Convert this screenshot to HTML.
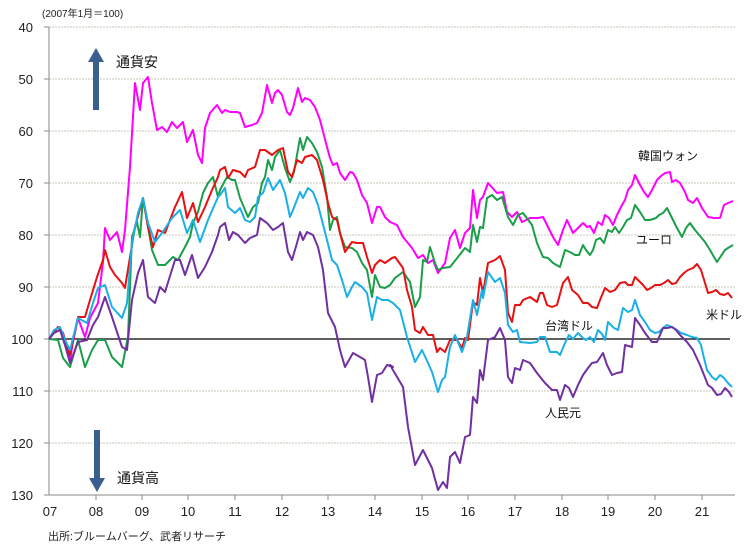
<!DOCTYPE html>
<html><head><meta charset="utf-8"><style>
html,body{margin:0;padding:0;background:#fff;}
svg{display:block;font-family:"Liberation Sans","Noto Sans CJK JP",sans-serif;}
</style></head><body>
<svg width="756" height="548" viewBox="0 0 756 548" xmlns="http://www.w3.org/2000/svg">
<rect width="756" height="548" fill="#fff"/>
<g stroke="#c8c4b4" stroke-width="1" stroke-dasharray="2,1">
<line x1="49" y1="27" x2="735" y2="27"/><line x1="49" y1="79" x2="735" y2="79"/><line x1="49" y1="131" x2="735" y2="131"/><line x1="49" y1="183" x2="735" y2="183"/><line x1="49" y1="235" x2="735" y2="235"/><line x1="49" y1="287" x2="735" y2="287"/><line x1="49" y1="391" x2="735" y2="391"/><line x1="49" y1="443" x2="735" y2="443"/>
</g>
<g stroke="#888" stroke-width="1">
<line x1="49" y1="27" x2="49" y2="495"/><line x1="49" y1="495" x2="735" y2="495"/>
<line x1="44" y1="27" x2="49" y2="27"/><line x1="44" y1="79" x2="49" y2="79"/><line x1="44" y1="131" x2="49" y2="131"/><line x1="44" y1="183" x2="49" y2="183"/><line x1="44" y1="235" x2="49" y2="235"/><line x1="44" y1="287" x2="49" y2="287"/><line x1="44" y1="339" x2="49" y2="339"/><line x1="44" y1="391" x2="49" y2="391"/><line x1="44" y1="443" x2="49" y2="443"/><line x1="44" y1="495" x2="49" y2="495"/>
<line x1="96" y1="495" x2="96" y2="500"/><line x1="142" y1="495" x2="142" y2="500"/><line x1="188" y1="495" x2="188" y2="500"/><line x1="235" y1="495" x2="235" y2="500"/><line x1="282" y1="495" x2="282" y2="500"/><line x1="328" y1="495" x2="328" y2="500"/><line x1="375" y1="495" x2="375" y2="500"/><line x1="422" y1="495" x2="422" y2="500"/><line x1="468" y1="495" x2="468" y2="500"/><line x1="515" y1="495" x2="515" y2="500"/><line x1="562" y1="495" x2="562" y2="500"/><line x1="608" y1="495" x2="608" y2="500"/><line x1="655" y1="495" x2="655" y2="500"/><line x1="702" y1="495" x2="702" y2="500"/>
</g>
<line x1="49" y1="339" x2="730" y2="339" stroke="#000" stroke-width="1.2"/>
<g font-size="13" fill="#222" text-anchor="end">
<text x="33" y="32">40</text><text x="33" y="84">50</text><text x="33" y="136">60</text><text x="33" y="188">70</text><text x="33" y="240">80</text><text x="33" y="292">90</text><text x="33" y="344">100</text><text x="33" y="396">110</text><text x="33" y="448">120</text><text x="33" y="500">130</text>
</g>
<g font-size="13" fill="#222" text-anchor="middle">
<text x="50" y="516">07</text><text x="96" y="516">08</text><text x="142" y="516">09</text><text x="188" y="516">10</text><text x="235" y="516">11</text><text x="282" y="516">12</text><text x="328" y="516">13</text><text x="375" y="516">14</text><text x="422" y="516">15</text><text x="468" y="516">16</text><text x="515" y="516">17</text><text x="562" y="516">18</text><text x="608" y="516">19</text><text x="655" y="516">20</text><text x="702" y="516">21</text>
</g>
<text x="42" y="17" font-size="10" fill="#222">(2007年1月＝100)</text>
<text x="48" y="540" font-size="11" fill="#222">出所:ブルームバーグ、武者リサーチ</text>
<polygon points="96,48 104,62 99,62 99,110 93,110 93,62 88,62" fill="#3a5f8f"/>
<polygon points="97,492 105,478 100,478 100,430 94,430 94,478 89,478" fill="#3a5f8f"/>
<text x="116" y="67" font-size="14" fill="#111">通貨安</text>
<text x="117" y="483" font-size="14" fill="#111">通貨高</text>
<g fill="none" stroke-width="2" stroke-linejoin="round">
<polyline stroke="#ff00ff" points="49,339 58,327 63,333 67,350 70,360 73,342 78,318 85,337 90,318 98,303 103,262 105,228 110,240 117,232 122,252 125,230 130,167 135,83 140,110 143,83 148,77 152,103 157,130 162,127 167,132 172,122 177,128 183,122 187,142 193,130 198,155 202,163 205,128 210,113 217,105 222,113 225,110 230,112 237,112 240,113 245,127 252,125 257,123 262,113 267,85 272,103 275,93 278,90 282,95 287,112 290,115 293,108 298,88 302,102 305,98 310,100 315,107 320,120 327,147 330,158 333,165 337,163 340,173 345,180 350,172 353,173 357,180 362,195 367,203 372,223 377,207 380,207 385,217 390,222 397,225 403,237 412,248 418,258 423,255 428,263 433,260 438,273 445,263 450,238 455,230 460,248 465,233 470,228 473,190 477,218 480,200 483,197 488,183 497,193 503,192 507,212 512,217 517,212 522,222 530,218 538,218 543,217 548,227 553,237 558,245 563,230 567,220 573,233 578,228 583,223 587,227 590,226 594,233 598,222 602,225 605,215 609,218 613,225 617,215 622,205 625,200 628,190 632,185 635,175 640,185 644,192 648,197 652,190 657,180 661,176 665,173 670,172 672,182 676,180 680,183 685,192 688,200 693,203 697,198 702,208 708,217 714,218 720,218 724,205 728,203 733,201"/>
<polyline stroke="#1a9e4a" points="49,339 58,340 63,358 70,367 78,340 85,367 92,350 98,340 105,340 112,357 122,367 128,337 132,237 137,222 140,237 143,198 152,250 158,265 165,265 173,257 178,260 185,247 190,237 193,223 198,212 203,193 208,183 213,177 218,197 220,190 227,177 232,180 235,180 240,198 248,217 253,207 258,203 262,183 265,177 268,160 272,170 275,157 280,150 285,168 290,182 294,172 300,138 303,150 307,137 312,143 317,152 322,167 327,197 330,230 333,220 337,217 340,233 345,247 352,248 357,252 362,263 367,270 372,297 375,275 380,287 385,288 390,285 395,278 403,272 410,282 415,307 420,297 423,260 427,262 430,247 435,263 438,270 443,268 450,267 458,257 465,248 470,252 473,225 477,242 480,227 483,228 487,198 492,195 497,200 502,197 508,217 513,225 518,215 523,213 532,225 537,243 543,257 548,258 553,263 560,267 565,250 570,252 575,255 579,255 583,245 586,250 590,255 593,250 596,240 600,238 604,243 608,230 612,232 615,227 619,233 623,227 627,220 631,218 635,205 640,212 645,220 650,220 656,218 659,215 663,213 667,208 672,218 677,228 682,237 686,228 690,223 695,230 700,236 705,242 710,250 714,257 717,262 721,256 725,250 728,248 733,245"/>
<polyline stroke="#e81010" points="49,339 58,327 63,333 70,355 78,317 85,317 90,300 97,277 103,260 105,250 110,267 115,275 122,283 125,288 130,257 135,227 143,198 148,227 153,247 158,230 165,233 175,207 182,192 187,218 193,203 198,222 205,207 212,190 218,177 220,170 225,167 228,178 233,170 240,172 245,177 248,170 255,167 260,150 265,150 272,155 278,150 283,148 288,172 292,177 297,160 302,163 305,157 312,155 317,160 323,180 328,203 332,217 337,220 340,233 345,252 352,242 357,243 363,243 367,257 372,273 375,265 380,260 385,263 392,258 395,257 403,268 407,290 412,307 415,330 420,333 423,327 428,335 433,335 437,352 440,348 445,352 450,340 457,340 462,348 465,338 468,340 473,302 477,305 480,278 483,293 488,263 495,260 500,256 505,270 508,313 512,322 515,305 520,305 523,300 530,297 537,302 540,293 543,293 547,305 552,307 557,305 563,283 568,277 572,290 578,295 583,303 588,303 592,307 597,308 600,300 605,288 610,292 615,290 620,283 625,282 628,285 632,285 635,277 639,281 643,285 647,290 651,288 655,285 660,285 664,283 668,280 672,284 676,283 680,277 684,273 688,270 693,268 697,264 701,270 705,283 708,293 712,292 716,290 720,294 724,295 728,293 732,298"/>
<polyline stroke="#1ab0e6" points="49,339 54,330 60,327 65,340 70,350 78,318 87,323 93,303 98,288 105,285 112,307 122,318 127,303 132,243 138,213 143,198 148,223 155,242 162,233 172,218 180,210 187,233 193,220 200,242 208,220 218,197 220,195 225,188 228,207 235,213 240,208 245,220 250,222 255,217 258,197 263,193 268,178 273,190 280,180 285,193 290,217 293,210 300,192 303,198 308,188 313,192 318,205 327,240 332,260 337,265 342,280 347,297 352,287 355,282 362,287 367,293 372,320 377,297 382,300 388,300 393,303 400,310 407,337 415,362 422,350 428,363 432,372 438,392 442,380 445,377 450,347 455,335 462,352 467,337 473,300 477,315 482,290 483,298 488,272 495,282 500,278 505,293 508,325 513,332 517,330 520,342 530,343 537,342 540,337 545,337 550,352 557,352 560,355 565,343 569,335 573,339 578,333 583,338 586,340 590,337 594,342 598,330 602,334 605,340 608,322 614,328 618,330 623,308 628,312 632,310 635,300 640,315 645,322 650,330 655,333 659,332 663,328 667,325 672,327 677,330 681,333 687,335 692,337 697,338 701,345 704,358 707,370 712,377 716,380 720,375 723,377 728,383 732,387"/>
<polyline stroke="#7030a0" points="49,339 54,333 60,330 65,345 70,363 75,350 78,342 87,340 93,325 98,317 105,297 112,317 122,347 127,350 132,300 138,273 143,260 148,297 155,303 160,287 165,292 175,260 180,260 185,275 192,255 198,278 205,267 212,252 218,235 220,227 225,223 229,240 233,232 238,235 245,243 250,238 257,235 260,218 267,223 273,230 278,227 283,223 288,252 292,260 297,243 300,232 303,240 307,232 313,235 318,247 323,270 328,313 335,327 340,350 345,367 353,353 360,357 365,360 368,377 372,402 377,375 382,373 387,365 393,367 390,365 403,387 408,427 415,465 423,450 432,468 438,490 443,482 447,488 450,457 455,452 460,463 465,437 470,435 473,397 477,403 480,370 483,380 488,340 495,337 500,328 505,340 508,377 512,383 515,368 520,370 523,360 530,363 537,373 545,383 552,390 557,390 560,400 565,385 569,388 573,397 578,385 583,375 588,368 592,363 597,362 603,353 607,365 612,375 617,373 622,372 625,345 632,347 635,318 640,325 645,333 652,342 657,342 663,328 667,328 672,327 676,330 680,335 687,342 693,350 700,365 704,375 708,385 712,388 717,395 721,394 725,388 729,392 732,397"/>
</g>
<g font-size="12" fill="#111">
<text x="638" y="160">韓国ウォン</text>
<text x="636" y="244">ユーロ</text>
<text x="706" y="319">米ドル</text>
<text x="545" y="330">台湾ドル</text>
<text x="545" y="417">人民元</text>
</g>
</svg>
</body></html>
